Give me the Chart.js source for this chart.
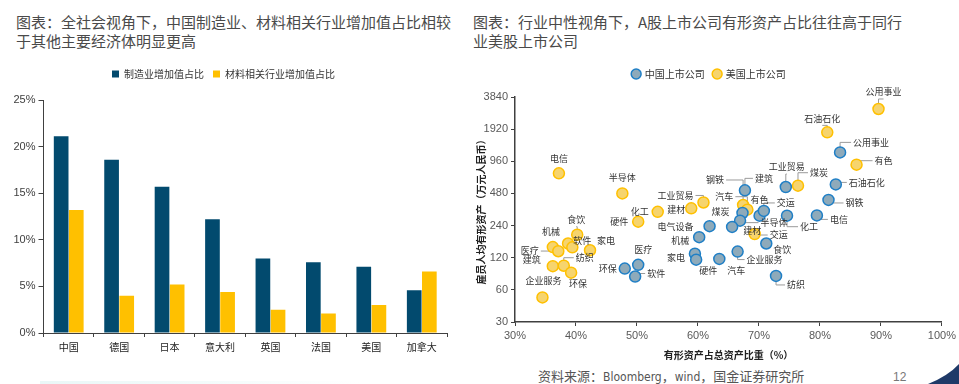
<!DOCTYPE html>
<html>
<head>
<meta charset="utf-8">
<script src="https://cdn.jsdelivr.net/npm/chart.js@4.4.1/dist/chart.umd.min.js"></script>
<style>
  body { margin: 0; width: 959px; height: 384px; background: #fff; position: relative; overflow: hidden; font-family: "Noto Sans CJK SC", sans-serif; }
  .title { position: absolute; top: 12px; font-size: 15px; line-height: 19px; color: #4a4a4a; white-space: nowrap; }
  #leftWrap { position: absolute; left: 0; top: 55px; width: 470px; height: 310px; }
  #rightWrap { position: absolute; left: 470px; top: 55px; width: 489px; height: 310px; }
  .source { position: absolute; left: 538px; top: 366px; font-size: 13px; color: #555; white-space: nowrap; }
  .source .en { font-family: "Liberation Sans Narrow", "DejaVu Sans Condensed", sans-serif; font-size: 12px; }
  .page { position: absolute; left: 893px; top: 370px; font-size: 12px; color: #777; font-family: "Liberation Sans", sans-serif; }
  .fade { position: absolute; left: 40px; top: 381px; width: 320px; height: 3px; background: linear-gradient(90deg, #eaf7f7, #f3fbfb, #fff); }
</style>
</head>
<body>
<div class="title" style="left:16px">图表：全社会视角下，中国制造业、材料相关行业增加值占比相较<br>于其他主要经济体明显更高</div>
<div class="title" style="left:473px">图表：行业中性视角下，A股上市公司有形资产占比往往高于同行<br>业美股上市公司</div>

<div id="leftWrap"><canvas id="barChart"></canvas></div>
<div id="rightWrap"><canvas id="scatterChart"></canvas></div>

<div class="source">资料来源：<span class="en">Bloomberg</span>，<span class="en">wind</span>，国金证券研究所</div>
<div class="page">12</div>
<div class="fade"></div>
<svg style="position:absolute;left:0;top:0" width="959" height="384">
  <path d="M 928 384 Q 948 376 959 364 L 959 384 Z" fill="#1f3a68"/>
</svg>

<script>
// ---- left chart data ----
const countries = ["中国", "德国", "日本", "意大利", "英国", "法国", "美国", "加拿大"];
const manufShare = [21.1, 18.6, 15.7, 12.2, 8.0, 7.6, 7.1, 4.6];
const materialShare = [13.2, 4.0, 5.2, 4.4, 2.5, 2.1, 3.0, 6.6];
const barTicks = [0, 5, 10, 15, 20, 25];

// ---- right chart data ----
const cnSectors = ["公用事业", "石油石化", "钢铁", "电信", "工业贸易", "化工", "建筑", "有色", "交运", "煤炭",
  "半导体", "建材", "电气设备", "机械", "食饮", "企业服务", "家电", "硬件", "汽车", "纺织", "环保", "医疗", "软件"];
const cnTangible = [83.3, 82.6, 81.4, 79.5, 74.4, 74.6, 67.7, 70.1, 70.8, 67.3,
  66.9, 65.6, 61.9, 60.2, 71.2, 66.5, 59.5, 59.7, 63.5, 72.8, 48.0, 50.2, 49.7];
const cnPerCapita = [1163, 583, 417, 299, 551, 297, 513, 297, 329, 315,
  267, 233, 237, 187, 163, 137, 131, 115, 117, 81, 95, 103, 80];

const usSectors = ["公用事业", "石油石化", "有色", "电信", "半导体", "工业贸易", "建材", "化工", "硬件", "食饮",
  "机械", "软件", "家电", "医疗", "电气设备", "建筑", "纺织", "环保", "企业服务", "煤炭", "钢铁", "汽车", "交运"];
const usTangible = [89.6, 81.2, 86.0, 37.2, 47.6, 60.9, 58.9, 53.4, 50.2, 40.2,
  38.7, 39.4, 42.3, 36.2, 37.1, 36.2, 38.0, 39.2, 34.5, 76.4, 67.4, 68.1, 69.3];
const usPerCapita = [2965, 1791, 892, 740, 480, 395, 348, 323, 261, 197,
  163, 150, 141, 151, 138, 100, 101, 87, 51, 567, 374, 338, 200];

const scatterYTicks = [30, 60, 120, 240, 480, 960, 1920, 3840];
const scatterXTicks = [30, 40, 50, 60, 70, 80, 90, 100];

// label placement (dx, dy from point, leader line?)
const cnLabelPos = [[31, -10, 1], [31, -2, 1], [26, 3, 1], [22, 4, 1], [1, -20, 1], [22, 11, 1], [19, -12, 1], [0, -16, 0], [22, -8, 1], [-22, -1, 0],
  [34, 2, 1], [20, 4, 0], [-34, 0, 0], [-19, 3, 0], [16, 6, 0], [27, 8, 1], [-19, 4, 0], [12, 11, 0], [17, 12, 0], [20, 9, 1], [-17, 0, 0], [5, -15, 0], [21, -3, 1]];
const usLabelPos = [[5, -17, 1], [-5, -14, 1], [27, -4, 1], [0, -15, 0], [0, -16, 0], [-28, -7, 1], [-15, 1, 0], [-18, 0, 0], [-19, 0, 0], [-1, -15, 1],
  [-17, -12, 0], [10, -7, 0], [16, -10, 0], [-23, 4, 1], null, [-21, -7, 0], [21, -8, 1], [7, 11, 0], [1, -17, 0], [21, -13, 1], [-28, -25, 1], [-23, -13, 1], [24, 1, 1]];

const axisColor = "#404040";
const tickFont = { family: "Liberation Sans, Arial, sans-serif", size: 11 };
const cjkFont = "Noto Sans CJK SC";

// push the plot area down a bit below the legend
function legendGap(gap) {
  return {
    id: "legendGap",
    beforeInit(chart) {
      const fit = chart.legend.fit;
      chart.legend.fit = function () {
        fit.bind(chart.legend)();
        this.height += gap;
      };
    },
  };
}

// ---- bar chart ----
new Chart(document.getElementById("barChart"), {
  type: "bar",
  data: {
    labels: countries,
    datasets: [
      { label: "制造业增加值占比", data: manufShare, backgroundColor: "#024a6e",
        categoryPercentage: 0.6, barPercentage: 0.97 },
      { label: "材料相关行业增加值占比", data: materialShare, backgroundColor: "#ffc000",
        categoryPercentage: 0.6, barPercentage: 0.97 },
    ],
  },
  options: {
    responsive: true,
    maintainAspectRatio: false,
    animation: false,
    layout: { padding: { top: 5, right: 23, left: 0, bottom: 0 } },
    scales: {
      x: {
        grid: { drawOnChartArea: false, color: axisColor, tickLength: 4 },
        border: { color: axisColor },
        ticks: { color: "#222", font: { family: cjkFont, size: 10 }, padding: 4 },
        afterFit: (s) => { s.height = 32; },
      },
      y: {
        min: 0,
        max: 25,
        afterBuildTicks: (s) => { s.ticks = barTicks.map((v) => ({ value: v })); },
        grid: { drawOnChartArea: false, color: axisColor, tickLength: 5 },
        border: { color: axisColor },
        ticks: { color: axisColor, font: tickFont, padding: 3, callback: (v) => v + "%" },
        afterFit: (s) => { s.width = 43.5; },
      },
    },
    plugins: {
      legend: {
        labels: { boxWidth: 7, boxHeight: 7, padding: 9, color: "#333", font: { family: cjkFont, size: 10 } },
      },
      tooltip: { enabled: false },
    },
  },
  plugins: [legendGap(11)],
});

// ---- scatter chart ----
const sectorLabels = {
  id: "sectorLabels",
  beforeDatasetsDraw(chart) {
    const ctx = chart.ctx;
    ctx.save();
    ctx.strokeStyle = "#9a9a9a";
    ctx.lineWidth = 1;
    chart.data.datasets.forEach((ds, di) => {
      chart.getDatasetMeta(di).data.forEach((pt, i) => {
        const pos = ds.labelPos[i];
        if (!pos || !pos[2]) return;
        const lx = pt.x + pos[0], ly = pt.y + pos[1];
        ctx.font = "9px " + cjkFont;
        const w = ctx.measureText(ds.names[i]).width;
        ctx.beginPath();
        ctx.moveTo(pt.x, pt.y);
        if (Math.abs(pos[0]) >= Math.abs(pos[1])) {
          ctx.lineTo(pt.x, ly);
          ctx.lineTo(lx - Math.sign(pos[0]) * (w / 2 + 2), ly);
        } else {
          ctx.lineTo(pt.x, ly - Math.sign(pos[1]) * 7);
          ctx.lineTo(lx, ly - Math.sign(pos[1]) * 7);
        }
        ctx.stroke();
      });
    });
    ctx.restore();
  },
  afterDatasetsDraw(chart) {
    const ctx = chart.ctx;
    ctx.save();
    ctx.font = "9px " + cjkFont;
    ctx.fillStyle = "#333";
    ctx.textAlign = "center";
    ctx.textBaseline = "middle";
    chart.data.datasets.forEach((ds, di) => {
      chart.getDatasetMeta(di).data.forEach((pt, i) => {
        const pos = ds.labelPos[i];
        if (!pos) return;
        ctx.fillText(ds.names[i], pt.x + pos[0], pt.y + pos[1]);
      });
    });
    ctx.restore();
  },
};

new Chart(document.getElementById("scatterChart"), {
  type: "scatter",
  data: {
    datasets: [
      {
        label: "中国上市公司",
        data: cnTangible.map((x, i) => ({ x: x, y: cnPerCapita[i] })),
        names: cnSectors,
        labelPos: cnLabelPos,
        backgroundColor: "#8eaaba",
        borderColor: "#1f7fc6",
        borderWidth: 1.5,
        pointRadius: 5.5,
      },
      {
        label: "美国上市公司",
        data: usTangible.map((x, i) => ({ x: x, y: usPerCapita[i] })),
        names: usSectors,
        labelPos: usLabelPos,
        backgroundColor: "#f6d46e",
        borderColor: "#ffc000",
        borderWidth: 1.5,
        pointRadius: 5.5,
      },
    ],
  },
  options: {
    responsive: true,
    maintainAspectRatio: false,
    animation: false,
    layout: { padding: { top: 5, right: 15.7, left: 5, bottom: 0 } },
    scales: {
      x: {
        type: "linear",
        min: 30,
        max: 100,
        afterBuildTicks: (s) => { s.ticks = scatterXTicks.map((v) => ({ value: v })); },
        grid: { drawOnChartArea: false, color: axisColor, tickLength: 4 },
        border: { color: axisColor, width: 1.5 },
        ticks: { color: "#595959", font: tickFont, padding: 3, callback: (v) => v + "%" },
        title: { display: true, text: "有形资产占总资产比重（%）", color: "#222",
          font: { family: cjkFont, size: 10, weight: "bold" }, padding: { top: 2 } },
        afterFit: (s) => { s.height = 43; },
      },
      y: {
        type: "logarithmic",
        min: 30,
        max: 3840,
        afterBuildTicks: (s) => { s.ticks = scatterYTicks.map((v) => ({ value: v })); },
        grid: { drawOnChartArea: false, color: axisColor, tickLength: 4 },
        border: { color: axisColor, width: 1.5 },
        ticks: { color: "#595959", font: tickFont, padding: 3, callback: (v) => String(v) },
        title: { display: true, text: "雇员人均有形资产（万元人民币）", color: "#222",
          font: { family: cjkFont, size: 10, weight: "bold" }, padding: 0 },
        afterFit: (s) => { s.width = 40; },
      },
    },
    plugins: {
      legend: {
        labels: { usePointStyle: true, pointStyle: "circle", boxWidth: 7, boxHeight: 7, padding: 9,
          color: "#333", font: { family: cjkFont, size: 10 } },
      },
      tooltip: { enabled: false },
    },
  },
  plugins: [sectorLabels, legendGap(8)],
});
</script>
</body>
</html>
